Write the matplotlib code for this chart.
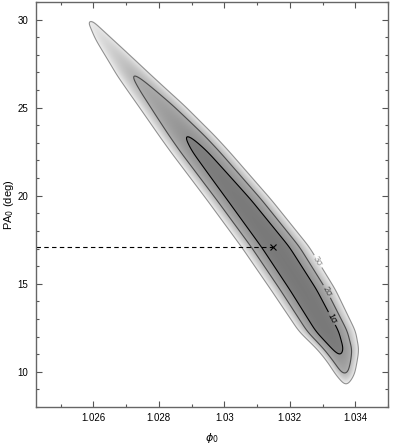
import numpy as np
import matplotlib
matplotlib.use("Agg")
import matplotlib.pyplot as plt
from matplotlib.ticker import MultipleLocator

plt.rcParams['font.family'] = ['Liberation Sans', 'DejaVu Sans']

# ridge of the chi2 valley (PA in deg, phi0)
ridge_pa = [31.0, 30.06, 28.92, 27.57, 26.83, 25.87, 25.13, 23.38, 22.47,
            19.75, 17.09, 14.66, 12.28, 11.26, 10.58, 9.84, 9.33, 8.0]
ridge_phi = [1.02580, 1.02585, 1.02631, 1.02692, 1.02725, 1.02771, 1.02807,
             1.02887, 1.02927, 1.03046, 1.03156, 1.03241, 1.03315, 1.03348,
             1.03360, 1.03369, 1.03372, 1.03374]
# 1-unit half width across the valley (phi units)
ridge_width = [0.000110, 0.000125, 0.000180, 0.000205, 0.000220, 0.000241,
               0.000256, 0.000275, 0.000281, 0.000296, 0.000305, 0.000290,
               0.000256, 0.000198, 0.000159, 0.000122, 0.000098, 0.000090]
# chi2 excess along the bottom of the valley
ridge_chi2 = [25.0, 11.83, 9.85, 7.47, 6.18, 5.10, 4.27, 2.30, 1.62,
              0.80, 0.35, 0.30, 0.45, 1.60, 3.50, 6.18, 11.83, 25.0]

sigma_levels = [2.30, 6.18, 11.83]
sigma_names = ['1σ', '2σ', '3σ']
line_colors = ['black', '#4a4a4a', '#909090']
label_pos = [(1.03333, 13.07), (1.03311, 14.54), (1.03278, 16.18)]

# shading of the filled region
shade_chi2 = [0.0, 2.30, 2.31, 6.18, 6.19, 11.83]
shade_gray = [0.47, 0.50, 0.58, 0.68, 0.72, 0.93]

best_phi = 1.03150
best_pa = 17.09

x_ticks = [1.026, 1.028, 1.030, 1.032, 1.034]
x_tick_labels = ['1.026', '1.028', '1.03', '1.032', '1.034']
y_ticks = [10, 15, 20, 25, 30]

xlim = (1.02425, 1.03500)
ylim = (8.0, 31.0)

# build the chi2 surface
pa_fine = np.linspace(ylim[0], ylim[1], 1400)
half = 35
win = np.hanning(2 * half + 1)
win /= win.sum()


def smooth_profile(values):
    prof = np.interp(pa_fine, ridge_pa[::-1], values[::-1])
    padded = np.pad(prof, half, mode='edge')
    return np.convolve(padded, win, mode='valid')


c_prof = smooth_profile(ridge_phi)
w_prof = smooth_profile(ridge_width)
g_prof = smooth_profile(ridge_chi2)

phi_fine = np.linspace(xlim[0], xlim[1], 1100)
PHI, PA = np.meshgrid(phi_fine, pa_fine)
chi2 = ((PHI - c_prof[:, None]) / w_prof[:, None]) ** 2 + g_prof[:, None]

fig = plt.figure(figsize=(4.0, 4.44), dpi=100)
ax = fig.add_axes([0.09, 0.0833, 0.88, 0.9122])

gray = np.interp(chi2, shade_chi2, shade_gray)
rgba = np.dstack([gray, gray, gray, (chi2 <= sigma_levels[-1]).astype(float)])
ax.imshow(rgba, origin='lower', extent=(xlim[0], xlim[1], ylim[0], ylim[1]),
          aspect='auto', interpolation='bilinear')

cs = ax.contour(PHI, PA, chi2, levels=sigma_levels, colors=line_colors,
                linewidths=0.8)
ax.clabel(cs, fmt=dict(zip(sigma_levels, sigma_names)), manual=label_pos,
          fontsize=6.5, inline=True, inline_spacing=2)

ax.plot([xlim[0], best_phi], [best_pa, best_pa], color='black', lw=0.8,
        dashes=(4, 3))
ax.plot(best_phi, best_pa, 'x', color='black', ms=5, mew=0.8)

ax.set_xlim(*xlim)
ax.set_ylim(*ylim)
ax.set_xticks(x_ticks)
ax.set_xticklabels(x_tick_labels)
ax.set_yticks(y_ticks)
ax.xaxis.set_minor_locator(MultipleLocator(0.001))
ax.yaxis.set_minor_locator(MultipleLocator(1))
ax.tick_params(which='both', direction='in', top=True, right=True,
               color='#555555', labelsize=7, width=0.8)
ax.tick_params(which='major', length=4, pad=4)
ax.tick_params(axis='y', which='major', pad=5.5)
ax.tick_params(which='minor', length=2)
for sp in ax.spines.values():
    sp.set_color('#666666')
    sp.set_linewidth(1.0)

ax.set_xlabel(r'$\phi_0$', fontsize=8, labelpad=6)
ax.set_ylabel(r'PA$_0$ (deg)', fontsize=8)
ax.yaxis.set_label_coords(-0.058, 0.5)

fig.savefig('out.png', dpi=100)
